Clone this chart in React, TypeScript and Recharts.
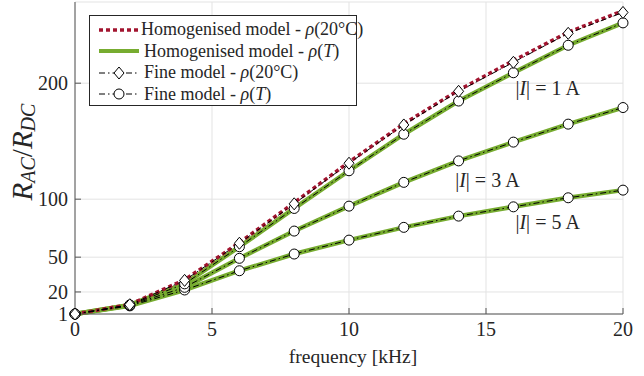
import { LineChart, Line, XAxis, YAxis, CartesianGrid, ReferenceDot, Label } from "recharts";

// frequency points [kHz]
const FREQ = [0, 2, 4, 6, 8, 10, 12, 14, 16, 18, 20];

// homogenised model
const HOMOG_20C = [1, 9.2, 30.5, 62.5, 97, 132, 165, 194, 219.5, 244, 262.5];
const HOMOG_T_1A = [1, 8.8, 27, 59, 92, 124.5, 156, 184.6, 209, 232.7, 252];
const HOMOG_T_3A = [1, 8.5, 24, 49, 72.5, 94, 114.5, 133, 149.2, 164.7, 179];
const HOMOG_T_5A = [1, 8, 21.7, 38.3, 52.7, 64.7, 75.7, 85.4, 93.4, 101.2, 107.8];

// fine model
const FINE_20C = [1, 9, 30, 62, 96, 131, 164, 193, 218, 243, 261];
const FINE_T_1A = [1, 8.8, 27, 59, 92, 124.5, 156, 184.6, 209, 232.7, 252];
const FINE_T_3A = [1, 8.5, 24, 49, 72.5, 94, 114.5, 133, 149.2, 164.7, 179];
const FINE_T_5A = [1, 8, 21.7, 38.3, 52.7, 64.7, 75.7, 85.4, 93.4, 101.2, 107.8];

const X_TICKS = [0, 5, 10, 15, 20];
const Y_TICKS = [1, 20, 50, 100, 200];

const CURRENT_LABELS = [
  { amps: "1", freq: 17.25, value: 196 },
  { amps: "3", freq: 15.05, value: 116.5 },
  { amps: "5", freq: 17.25, value: 80.5 },
];

const data = FREQ.map((f, i) => ({
  freq: f,
  h20: HOMOG_20C[i],
  hT1: HOMOG_T_1A[i],
  hT3: HOMOG_T_3A[i],
  hT5: HOMOG_T_5A[i],
  f20: FINE_20C[i],
  fT1: FINE_T_1A[i],
  fT3: FINE_T_3A[i],
  fT5: FINE_T_5A[i],
}));

const RED = "#A2142F";
const GREEN = "#77AC30";
const INK = "#262626";
const AXIS = "#555555";
const FONT = "'Liberation Serif', 'Times New Roman', serif";
const FINE_DASH = "6 3 1.5 3";

function Diamond(props: any) {
  const { cx, cy, index } = props;
  if (cx == null || cy == null) return null;
  const w = 5;
  const h = 6;
  return (
    <path
      key={`dm-${index}`}
      d={`M${cx},${cy - h}L${cx + w},${cy}L${cx},${cy + h}L${cx - w},${cy}Z`}
      fill="#fff"
      stroke="#000"
      strokeWidth={1}
    />
  );
}

const circleDot = { r: 5, fill: "#fff", stroke: "#000", strokeWidth: 1, strokeDasharray: "none" };

function CurrentLabel({ viewBox, amps }: any) {
  const cx = viewBox.x + viewBox.width / 2;
  const cy = viewBox.y + viewBox.height / 2;
  return (
    <text x={cx} y={cy} textAnchor="middle" dominantBaseline="central" fontSize={20} fill={INK} fontFamily={FONT}>
      |<tspan fontStyle="italic">I</tspan>|<tspan dx={5}>=</tspan>
      <tspan dx={5}>{amps}</tspan>
      <tspan dx={4}>A</tspan>
    </text>
  );
}

function YTitle({ viewBox }: any) {
  const x = 22;
  const y = viewBox.y + viewBox.height / 2 - 6;
  return (
    <text
      x={x}
      y={y}
      transform={`rotate(-90 ${x} ${y})`}
      textAnchor="middle"
      dominantBaseline="central"
      fontSize={29}
      fill={INK}
      fontFamily={FONT}
      fontStyle="italic"
    >
      R<tspan fontSize={20} dy={6}>AC</tspan>
      <tspan dy={-6} fontStyle="normal">/</tspan>R<tspan fontSize={20} dy={6}>DC</tspan>
    </text>
  );
}

function XTitle({ viewBox }: any) {
  return (
    <text
      x={viewBox.x + viewBox.width / 2 + 4}
      y={viewBox.y + 42}
      textAnchor="middle"
      dominantBaseline="central"
      fontSize={19.5}
      fill={INK}
      fontFamily={FONT}
    >
      frequency [kHz]
    </text>
  );
}

const LEGEND = [
  { label: "Homogenised model - ρ(20°C)", kind: "red" },
  { label: "Homogenised model - ρ(T)", kind: "green", italicT: true },
  { label: "Fine model - ρ(20°C)", kind: "diamond" },
  { label: "Fine model - ρ(T)", kind: "circle", italicT: true },
];

function LegendSample({ kind }: { kind: string }) {
  return (
    <svg width={44} height={20} style={{ display: "block" }}>
      {kind === "red" && <line x1={2} x2={42} y1={10} y2={10} stroke={RED} strokeWidth={3.5} strokeDasharray="4 3" />}
      {kind === "green" && <line x1={2} x2={42} y1={10} y2={10} stroke={GREEN} strokeWidth={4} />}
      {(kind === "diamond" || kind === "circle") && (
        <>
          <line x1={2} x2={42} y1={10} y2={10} stroke="#000" strokeWidth={1} strokeDasharray={FINE_DASH} />
          {kind === "diamond" ? (
            <path d="M22,4L27,10L22,16L17,10Z" fill="#fff" stroke="#000" strokeWidth={1} />
          ) : (
            <circle cx={22} cy={10} r={5} fill="#fff" stroke="#000" strokeWidth={1} />
          )}
        </>
      )}
    </svg>
  );
}

function ChartLegend() {
  return (
    <div
      style={{
        position: "absolute",
        left: 89,
        top: 15,
        width: 268,
        height: 91,
        border: `1px solid ${INK}`,
        background: "#fff",
        boxSizing: "border-box",
        paddingTop: 3,
        fontFamily: FONT,
        fontSize: 18,
        color: INK,
      }}
    >
      {LEGEND.map((item) => {
        const [head, tail] = item.label.split("ρ");
        return (
          <div key={item.label} style={{ display: "flex", alignItems: "center", height: 21.5, whiteSpace: "nowrap" }}>
            <div style={{ marginLeft: 7, width: 47 }}>
              <LegendSample kind={item.kind} />
            </div>
            <span>
              {head}
              <span style={{ fontStyle: "italic" }}>ρ</span>
              {item.italicT ? (
                <>
                  (<span style={{ fontStyle: "italic" }}>T</span>)
                </>
              ) : (
                tail
              )}
            </span>
          </div>
        );
      })}
    </div>
  );
}

export default function App() {
  return (
    <div style={{ position: "absolute", left: 0, top: 0, width: 644, height: 376, background: "#fff", fontFamily: FONT }}>
      <LineChart width={644} height={376} data={data} margin={{ top: 2, right: 21, bottom: 32, left: 0 }}>
        <CartesianGrid stroke="#e3e3e3" strokeWidth={1} />
        <XAxis
          dataKey="freq"
          type="number"
          domain={[0, 20]}
          ticks={X_TICKS}
          interval={0}
          height={30}
          stroke={AXIS}
          tickSize={-6}
          tickMargin={14}
          tick={{ fontSize: 20, fill: INK, fontFamily: FONT }}
        >
          <Label content={<XTitle />} />
        </XAxis>
        <XAxis
          xAxisId="top"
          orientation="top"
          dataKey="freq"
          type="number"
          domain={[0, 20]}
          ticks={X_TICKS}
          interval={0}
          height={0}
          stroke={AXIS}
          tickSize={-6}
          tick={false}
        />
        <YAxis
          type="number"
          domain={[1, 270]}
          ticks={Y_TICKS}
          interval={0}
          width={75}
          stroke={AXIS}
          tickSize={-6}
          tickMargin={13}
          tick={{ fontSize: 20, fill: INK, fontFamily: FONT }}
        >
          <Label content={<YTitle />} />
        </YAxis>
        <YAxis
          yAxisId="right"
          orientation="right"
          type="number"
          domain={[1, 270]}
          ticks={Y_TICKS}
          interval={0}
          width={0}
          stroke={AXIS}
          tickSize={-6}
          tick={false}
        />

        <Line dataKey="hT1" stroke={GREEN} strokeWidth={4.5} dot={false} isAnimationActive={false} />
        <Line dataKey="hT3" stroke={GREEN} strokeWidth={4.5} dot={false} isAnimationActive={false} />
        <Line dataKey="hT5" stroke={GREEN} strokeWidth={4.5} dot={false} isAnimationActive={false} />
        <Line dataKey="h20" stroke={RED} strokeWidth={3.5} strokeDasharray="4 3" dot={false} isAnimationActive={false} />

        <Line dataKey="fT5" stroke="#000" strokeWidth={1} strokeDasharray={FINE_DASH} dot={circleDot} isAnimationActive={false} />
        <Line dataKey="fT3" stroke="#000" strokeWidth={1} strokeDasharray={FINE_DASH} dot={circleDot} isAnimationActive={false} />
        <Line dataKey="fT1" stroke="#000" strokeWidth={1} strokeDasharray={FINE_DASH} dot={circleDot} isAnimationActive={false} />
        <Line dataKey="f20" stroke="#000" strokeWidth={1} strokeDasharray={FINE_DASH} dot={<Diamond />} isAnimationActive={false} />

        {CURRENT_LABELS.map((c) => (
          <ReferenceDot
            key={c.amps}
            x={c.freq}
            y={c.value}
            r={0}
            stroke="none"
            fill="none"
            label={<CurrentLabel amps={c.amps} />}
          />
        ))}
      </LineChart>
      <ChartLegend />
    </div>
  );
}
